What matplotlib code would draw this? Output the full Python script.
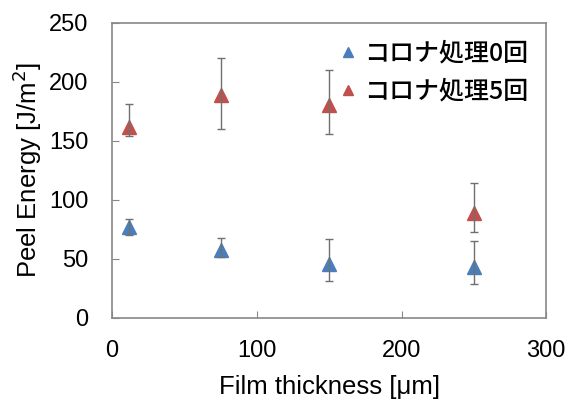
import matplotlib.pyplot as plt
import numpy as np

plt.rcParams["font.family"] = ["Liberation Sans", "Noto Sans CJK JP", "DejaVu Sans"]

thickness = [12, 75, 150, 250]

# コロナ処理0回
energy_0 = [77, 58, 46, 43]
err_lo_0 = [7, 6, 15, 14]
err_hi_0 = [7, 10, 21, 22]

# コロナ処理5回
energy_5 = [162, 189, 180, 89]
err_lo_5 = [8, 29, 24, 16]
err_hi_5 = [19, 31, 30, 25]

labels = ["コロナ処理0回", "コロナ処理5回"]
colors = ["#4a7ebb", "#c0504d"]

fig = plt.figure(figsize=(5.69, 4.01), dpi=100)
ax = fig.add_axes([0.197, 0.207, 0.763, 0.736])

series = [
    (energy_0, err_lo_0, err_hi_0),
    (energy_5, err_lo_5, err_hi_5),
]
for (y, lo, hi), lab, c in zip(series, labels, colors):
    ax.plot(thickness, y, "^", color=c, markersize=10, label=lab, zorder=2)
    ax.errorbar(thickness, y, yerr=[lo, hi], fmt="none", ecolor="#707070",
                elinewidth=1, capsize=3, capthick=1, zorder=3)

ax.set_xlim(0, 300)
ax.set_ylim(0, 250)
ax.set_xticks([0, 100, 200, 300])
ax.set_yticks([0, 50, 100, 150, 200, 250])
ax.tick_params(direction="in", length=5, color="#888888", labelsize=17)
ax.tick_params(axis="y", pad=17)
ax.tick_params(axis="x", pad=16)
for s in ax.spines.values():
    s.set_color("#888888")
    s.set_linewidth(1.2)

ax.set_xlabel("Film thickness [μm]", fontsize=18.5, labelpad=9)
ax.set_ylabel("Peel Energy [J/m$^2$]", fontsize=18.5, labelpad=4)

leg = ax.legend(loc="upper right", frameon=False, handletextpad=0.2,
                handlelength=0.9, markerscale=0.75, borderaxespad=0.3,
                labelspacing=0.5,
                prop={"family": ["Noto Sans CJK JP"], "size": 18,
                      "weight": "medium"})

fig.savefig("out.png", dpi=100)
